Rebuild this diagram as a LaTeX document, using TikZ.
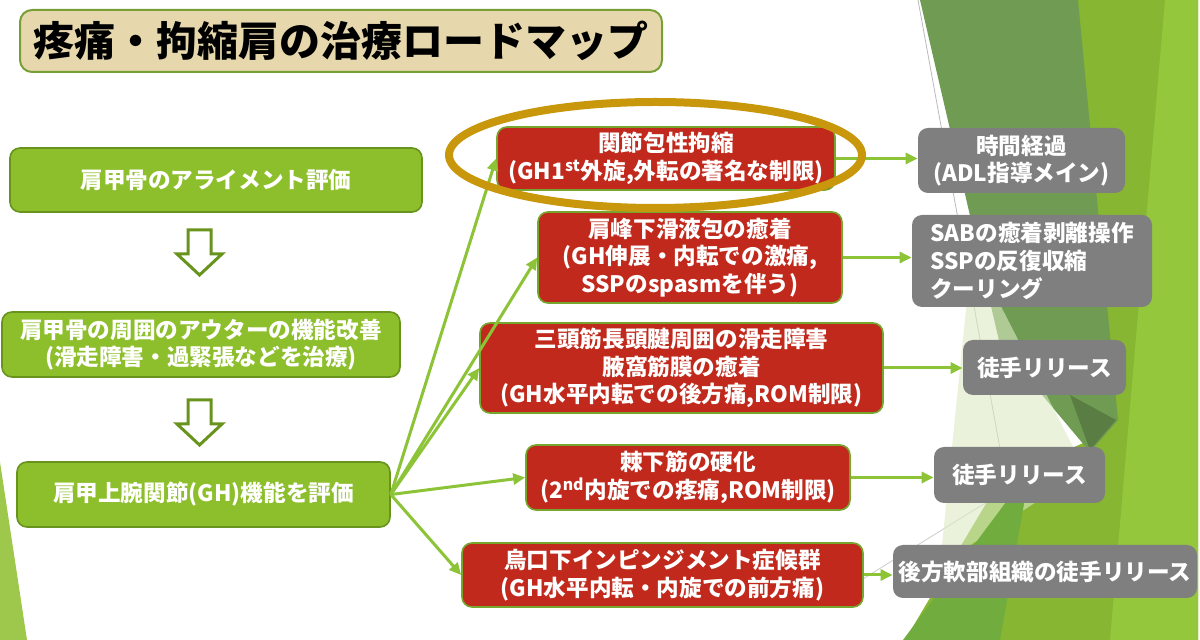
\documentclass[tikz,border=0pt]{standalone}
\usepackage{fontspec}
\setmainfont{Noto Sans CJK JP}
\usepackage{tikz}
\usetikzlibrary{arrows.meta,positioning,calc}
\definecolor{leaf}{RGB}{141,190,43}
\definecolor{leafdark}{RGB}{104,148,30}
\definecolor{brick}{RGB}{192,41,27}
\definecolor{slate}{RGB}{127,127,127}
\definecolor{lineg}{RGB}{140,195,55}
\definecolor{gold}{RGB}{201,151,11}
\definecolor{paper}{RGB}{230,216,172}
\definecolor{facetA}{RGB}{111,156,82}
\definecolor{facetB}{RGB}{134,182,50}
\definecolor{facetC}{RGB}{112,172,62}
\definecolor{facetD}{RGB}{220,234,196}
\definecolor{facetE}{RGB}{148,199,60}

\begin{document}
\begin{tikzpicture}[x=0.5pt,y=-0.5pt,
  dims/.style 2 args={minimum width=#1*0.5pt,minimum height=#2*0.5pt},
  txt/.style={font=\fontsize{11.3}{13.8}\selectfont\bfseries,text=white,align=center,inner sep=0pt,rounded corners=5pt},
  stepL/.style={txt,fill=leaf,draw=leafdark,line width=0.8pt},
  cause/.style={txt,fill=brick,draw=lineg!85!black,line width=0.8pt},
  cure/.style={txt,fill=slate},
  link/.style={lineg,line width=1.5pt,-{Triangle[length=6pt,width=5.5pt]}}]
\useasboundingbox (0,0) rectangle (1200,640);
\draw[gray!55,line width=0.4pt] (918,0) -- (1035,640);
\draw[gray!40,line width=0.4pt] (858,582) -- (995,497);
\fill[facetB] (1068,0) -- (1198,0) -- (1198,640) -- (905,640) -- (1000,480) -- (1090,440) -- cycle;
\fill[facetE] (1165,0) -- (1198,0) -- (1198,640) -- (1110,640) -- cycle;
\fill[facetA] (920,0) -- (1078,0) -- (1118,420) -- (1090,452) -- (1000,345) -- cycle;
\fill[facetA!80!black] (1070,395) -- (1116,420) -- (1090,450) -- cycle;
\fill[facetD,opacity=0.6] (972,250) -- (1085,470) -- (940,565) -- cycle;
\fill[facetC] (1030,470) -- (1000,640) -- (903,640) -- cycle;
\fill[leaf!85] (0,462) -- (27,640) -- (0,640) -- cycle;

\node[draw=leafdark!90,fill=paper,line width=1pt,rounded corners=6pt,inner sep=0pt,dims={642}{62},font=\fontsize{20.5}{24}\selectfont\bfseries] (title) at (341,41) {疼痛・拘縮肩の治療ロードマップ};

\node[stepL,dims={412}{64}] (scap) at (216,180) {肩甲骨のアライメント評価};
\node[stepL,dims={398}{65}] (outer) at (201,344.5) {肩甲骨の周囲のアウターの機能改善\\(滑走障害・過緊張などを治療)};
\node[stepL,dims={373}{65}] (gh) at (203.5,494.5) {肩甲上腕関節(GH)機能を評価};
\foreach \y in {230,400}
  \draw[leafdark,fill=white,line width=1.5pt] (188,\y) -- (211,\y) -- (211,\y+24) -- (222,\y+24) -- (199.5,\y+45) -- (177,\y+24) -- (188,\y+24) -- cycle;

\node[cause,dims={338}{63}] (caps) at (666,158.5) {関節包性拘縮\\(GH1\textsuperscript{st}外旋,外転の著名な制限)};
\node[cause,dims={304}{91}] (sab) at (690,257.5) {肩峰下滑液包の癒着\\(GH伸展・内転での激痛,\\SSPのspasmを伴う)};
\node[cause,dims={403}{90}] (tri) at (681.5,368) {三頭筋長頭腱周囲の滑走障害\\腋窩筋膜の癒着\\(GH水平内転での後方痛,ROM制限)};
\node[cause,dims={324}{65}] (isp) at (688,477.5) {棘下筋の硬化\\(2\textsuperscript{nd}内旋での疼痛,ROM制限)};
\node[cause,dims={401}{64}] (cor) at (662.5,575) {烏口下インピンジメント症候群\\(GH水平内転・内旋での前方痛)};

\node[cure,dims={207}{65}] (time) at (1021.5,160.5) {時間経過\\(ADL指導メイン)};
\node[cure,dims={240}{92},align=left] (adh) at (1032,261) {SABの癒着剥離操作\\SSPの反復収縮\\クーリング};
\node[cure,dims={163}{55}] (rel1) at (1044.5,367.5) {徒手リリース};
\node[cure,dims={171}{56}] (rel2) at (1019.5,475) {徒手リリース};
\node[cure,dims={304}{53}] (rel3) at (1045,571.5) {後方軟部組織の徒手リリース};

\foreach \t in {caps,sab,tri,isp,cor}
  \draw[link] (gh.east) -- (\t.west);
\foreach \a/\b in {caps/time,sab/adh,tri/rel1,isp/rel2,cor/rel3}
  \draw[link] (\a.east) -- (\a.east -| \b.west);
\draw[gold,line width=4pt] (655.5,155) ellipse [x radius=206.5,y radius=53];
\end{tikzpicture}
\end{document}
